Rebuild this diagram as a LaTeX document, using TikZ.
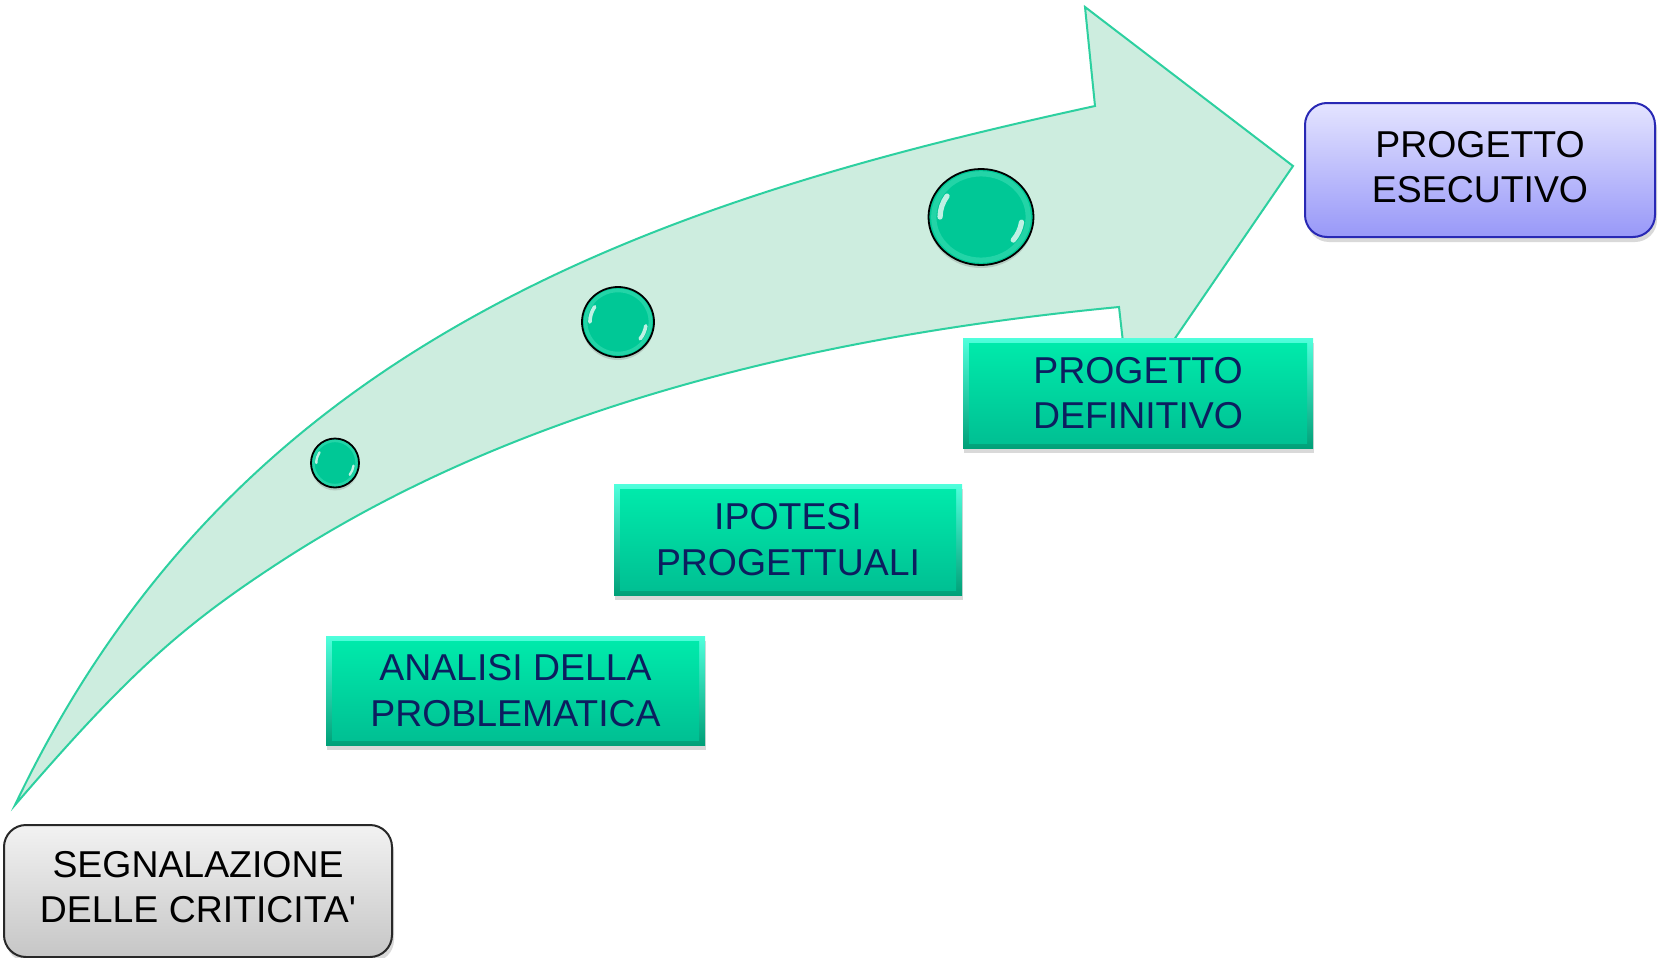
\documentclass[tikz,border=0pt]{standalone}
\usepackage{fontspec}
\setmainfont{Liberation Sans}
\usetikzlibrary{shapes.geometric,shadows}
\definecolor{arrowfill}{RGB}{205,237,223}
\definecolor{arrowline}{RGB}{45,208,160}
\definecolor{ballfill}{RGB}{0,200,150}
\definecolor{ballrim}{RGB}{70,225,185}
\definecolor{navy}{RGB}{12,30,95}
\definecolor{gedgetop}{RGB}{80,255,220}
\definecolor{gedgebot}{RGB}{0,160,120}
\definecolor{gfacetop}{RGB}{0,236,172}
\definecolor{gfacebot}{RGB}{0,190,146}
\definecolor{graytop}{RGB}{242,242,242}
\definecolor{graybot}{RGB}{198,198,198}
\definecolor{grayline}{RGB}{40,40,40}
\definecolor{bluetop}{RGB}{228,228,255}
\definecolor{bluebot}{RGB}{152,152,248}
\definecolor{blueline}{RGB}{40,40,180}
\begin{document}
\begin{tikzpicture}[x=1pt,y=-1pt,
  boxtext/.style={align=center, inner sep=0pt, font=\fontsize{37.4}{45.5}\selectfont},
  greenbox/.style={boxtext, rectangle, text=navy,
    top color=gedgetop, bottom color=gedgebot,
    drop shadow={shadow xshift=1pt, shadow yshift=-5pt, opacity=0.3},
    path picture={\fill[top color=gfacetop, bottom color=gfacebot]
      ([xshift=6pt,yshift=-5pt]path picture bounding box.north west) rectangle
      ([xshift=-6pt,yshift=5pt]path picture bounding box.south east);}},
  roundbox/.style={boxtext, rectangle, rounded corners=22pt, line width=2pt, text=black,
    drop shadow={shadow xshift=2pt, shadow yshift=-5pt, opacity=0.3}},
  ball/.style={ellipse, inner sep=0pt, fill=ballfill, draw=black, line width=1.8pt,
    drop shadow={shadow xshift=0pt, shadow yshift=-3pt, opacity=0.3}},
  arrowshape/.style={fill=arrowfill, draw=arrowline, line width=2pt, line join=miter},
  hl/.style={white, opacity=0.75, line cap=round}
]
\useasboundingbox (0,0) rectangle (1665,958);

% big curved arrow
\path[arrowshape] (15,805) .. controls (135,553) and (305,409) .. (480,313)
  .. controls (669,209) and (884,152) .. (1095,106)
  -- (1085,7) -- (1293,166) -- (1130,404) -- (1119,307)
  .. controls (781.5,339.25) and (498,420) .. (280,562)
  .. controls (179.4,627.4) and (126,676.3) .. (15,805) -- cycle;

% balls
\node[ball, minimum width=48pt, minimum height=49pt] (b1) at (335,463) {};
\node[ball, minimum width=72pt, minimum height=70pt] (b2) at (618,322) {};
\node[ball, minimum width=105pt, minimum height=96pt] (b3) at (981,217) {};
\foreach \cx/\cy/\rx/\ry in {335/463/24/24.5, 618/322/36/35, 981/217/52.5/48}{
  \pgfmathsetmacro\bx{0.9*\rx}
  \pgfmathsetmacro\by{0.9*\ry}
  \pgfmathsetmacro\rw{0.1*\rx}
  \draw[ballrim, opacity=0.5, line width=\rw pt] (\cx,\cy) ellipse[x radius=\bx, y radius=\by];
  \pgfmathsetmacro\ax{0.78*\rx}
  \pgfmathsetmacro\ay{0.78*\ry}
  \pgfmathsetmacro\lw{0.1*\rx}
  \draw[hl, line width=\lw pt] ({\cx+\ax*cos(180)},{\cy+\ay*sin(180)})
    arc[start angle=180, end angle=214, x radius=\ax, y radius=\ay];
  \draw[hl, line width=\lw pt] ({\cx+\ax*cos(8)},{\cy+\ay*sin(8)})
    arc[start angle=8, end angle=38, x radius=\ax, y radius=\ay];
}

% boxes
\node[roundbox, draw=grayline, top color=graytop, bottom color=graybot,
  minimum width=388pt, minimum height=132pt] (s) at (198,891)
  {SEGNALAZIONE\\DELLE CRITICITA\textquotesingle\rule[-8pt]{0pt}{8pt}};
\node[greenbox, minimum width=379pt, minimum height=109pt] (a) at (515.5,690.5)
  {ANALISI DELLA\\PROBLEMATICA};
\node[greenbox, minimum width=348pt, minimum height=111pt] (i) at (788,539.5)
  {IPOTESI\\PROGETTUALI};
\node[greenbox, minimum width=350pt, minimum height=110pt] (d) at (1138,393)
  {PROGETTO\\DEFINITIVO};
\node[roundbox, draw=blueline, top color=bluetop, bottom color=bluebot,
  minimum width=350pt, minimum height=134pt] (e) at (1480,170)
  {PROGETTO\\ESECUTIVO\rule[-6pt]{0pt}{6pt}};
\end{tikzpicture}
\end{document}
